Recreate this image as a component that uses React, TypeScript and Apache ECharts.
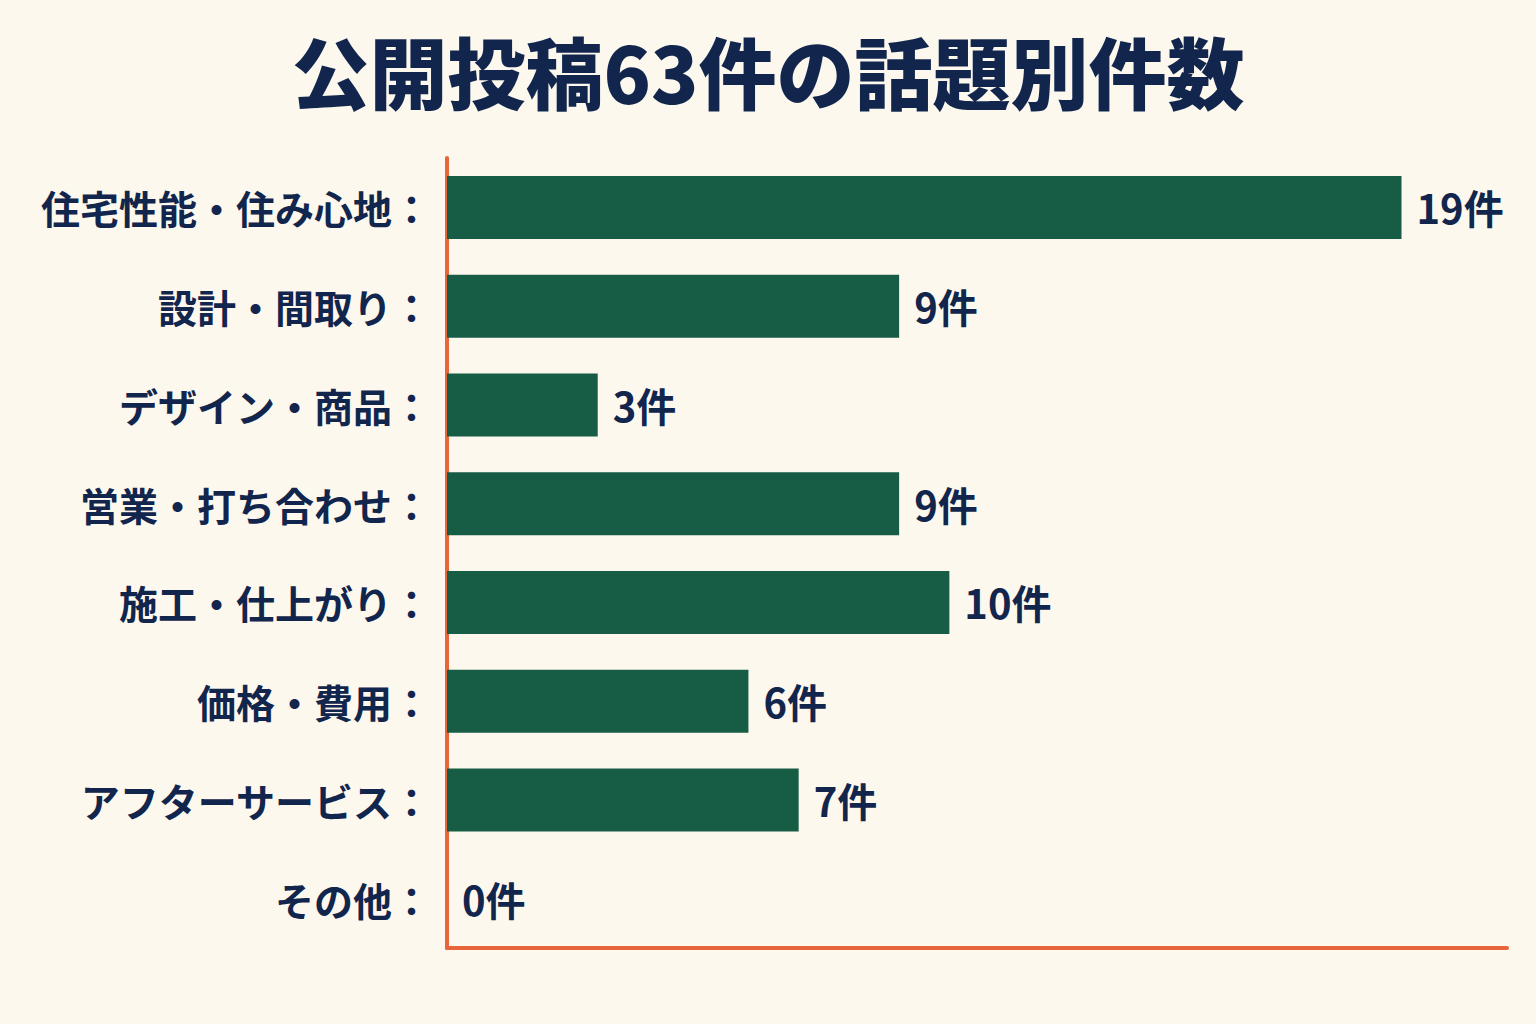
import { useEffect, useRef } from "react";
import * as echarts from "echarts";

const categories = [
  "住宅性能・住み心地",
  "設計・間取り",
  "デザイン・商品",
  "営業・打ち合わせ",
  "施工・仕上がり",
  "価格・費用",
  "アフターサービス",
  "その他",
];
const counts = [19, 9, 3, 9, 10, 6, 7, 0];
const titleText = "公開投稿63件の話題別件数";

const BG = "#fcf8ee";
const NAVY = "#12264d";
const GREEN = "#175c45";
const ORANGE = "#e8643a";
const FONT = "'Noto Sans CJK JP', 'Noto Sans', sans-serif";

export default function App() {
  const chartRef = useRef<HTMLDivElement>(null);

  useEffect(() => {
    document.body.style.margin = "0";
    if (!chartRef.current) return;
    const chart = echarts.init(chartRef.current, null, { renderer: "svg" });

    chart.setOption({
      animation: false,
      backgroundColor: BG,
      textStyle: { fontFamily: FONT },
      title: {
        text: titleText,
        left: "center",
        top: 26,
        textStyle: {
          color: NAVY,
          fontSize: 78,
          fontWeight: 900,
          fontFamily: FONT,
        },
      },
      grid: { left: 447, right: 29, top: 158, bottom: 76 },
      xAxis: {
        type: "value",
        min: 0,
        max: 21.1,
        axisLabel: { show: false },
        axisTick: { show: false },
        splitLine: { show: false },
        axisLine: { show: true, lineStyle: { color: ORANGE, width: 4 } },
      },
      yAxis: {
        type: "category",
        inverse: true,
        data: categories,
        axisTick: { show: false },
        axisLine: { show: true, lineStyle: { color: ORANGE, width: 4 } },
        axisLabel: {
          margin: 16,
          color: NAVY,
          fontSize: 39,
          fontWeight: "bold",
          fontFamily: FONT,
          formatter: (v: string) => `${v}：`,
        },
      },
      series: [
        {
          type: "bar",
          data: counts,
          barWidth: 63,
          itemStyle: { color: GREEN },
          label: {
            show: true,
            position: "right",
            distance: 15,
            color: NAVY,
            fontSize: 40,
            fontWeight: "bold",
            fontFamily: FONT,
            formatter: "{c}件",
          },
        },
      ],
    });

    return () => chart.dispose();
  }, []);

  return <div ref={chartRef} style={{ width: 1536, height: 1024 }} />;
}
